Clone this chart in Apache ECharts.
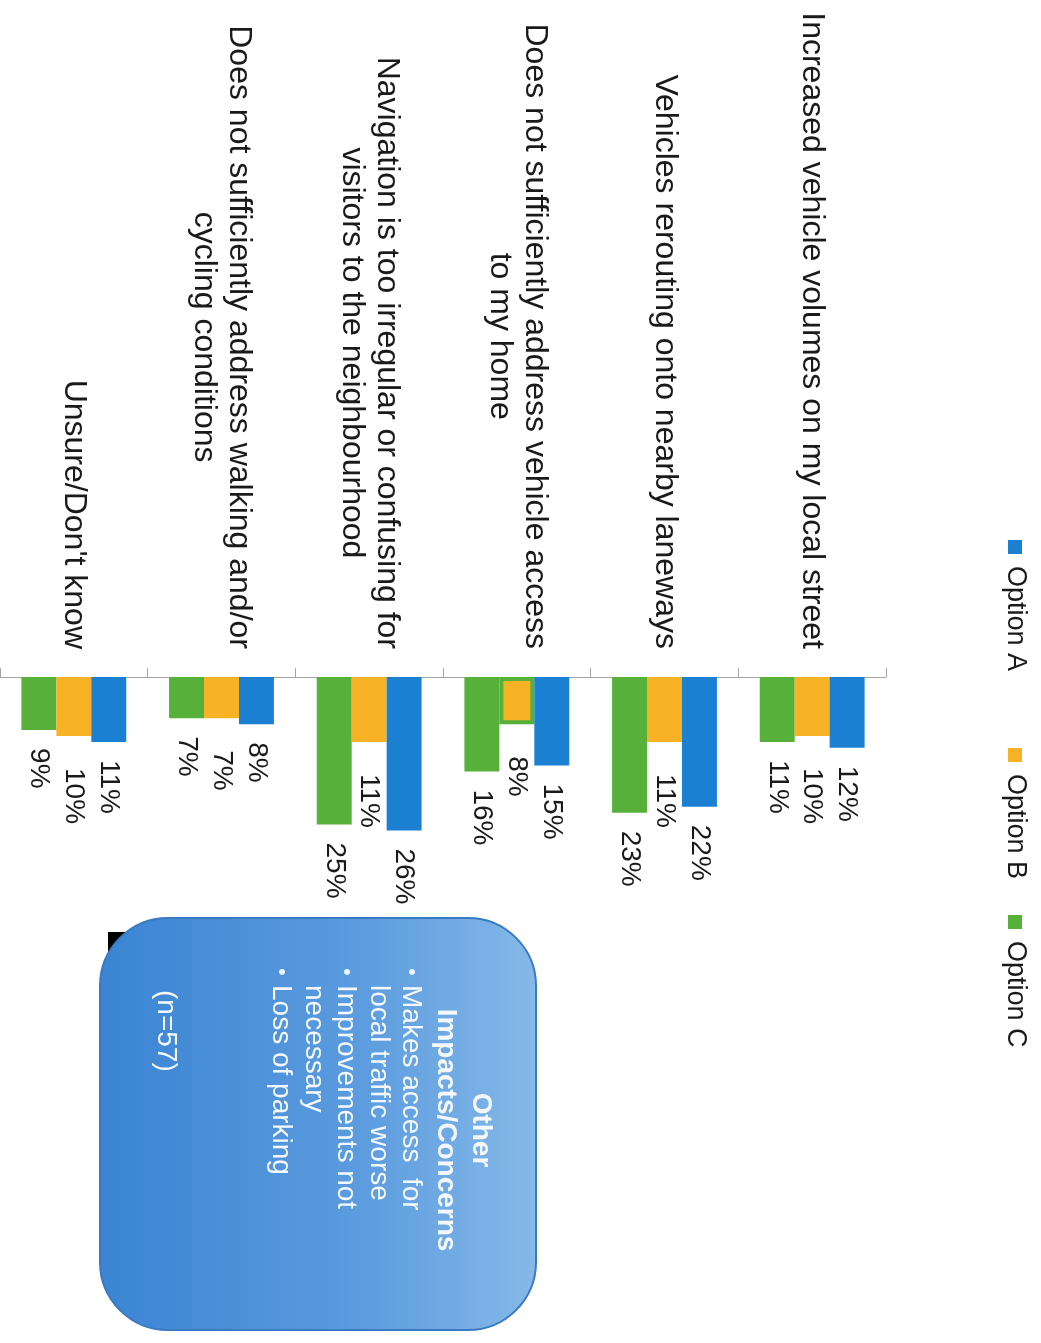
<!DOCTYPE html>
<html><head><meta charset="utf-8">
<script src="https://cdn.jsdelivr.net/npm/echarts@6/dist/echarts.min.js"></script>
<style>html,body{margin:0;padding:0;background:#fff}#c{width:1041px;height:1343px}</style>
</head><body><div id="c"></div>
<script>
// ---- data ----
const categories = [
  'Increased vehicle volumes on my local street',
  'Vehicles rerouting onto nearby laneways',
  'Does not sufficiently address vehicle access\nto my home',
  'Navigation is too irregular or confusing for\nvisitors to the neighbourhood',
  'Does not sufficiently address walking and/or\ncycling conditions',
  "Unsure/Don't know"
];
const seriesNames = ['Option A', 'Option B', 'Option C'];
const optionA = [12, 22, 15, 26, 8, 11];
const optionB = [10, 11, 8, 11, 7, 10];
const optionC = [11, 23, 16, 25, 7, 9];
const boxTitle = ['Other', 'Impacts/Concerns'];
const boxBullets = [['Makes access  for', 'local traffic worse'], ['Improvements not', 'necessary'], ['Loss of parking']];
const boxNote = '(n=57)';

// ---- styles ----
const FONT = '"Liberation Sans", Arial, sans-serif';
const colors = ['#1b80d2', '#f7b225', '#56b03a'];
const labelDist = [18, 32, 18];
const outlinedPoint = { series: 1, index: 2 };
const values = [optionA, optionB, optionC];

const chart = echarts.init(document.getElementById('c'), null, { renderer: 'canvas' });

// legend (rotated, reads top to bottom)
const legendY = [540, 748, 915];
const legendGraphics = seriesNames.map((n, i) => ({
  type: 'group', x: 1015, y: legendY[i], rotation: -Math.PI / 2,
  children: [
    { type: 'rect', shape: { x: 0, y: -7, width: 14, height: 14 }, style: { fill: colors[i] } },
    { type: 'text', style: { text: n, x: 26, y: 0, align: 'left', verticalAlign: 'middle', fill: '#1a1a1a', font: '27px ' + FONT } }
  ]
}));

// text box (rotated group; local x -> screen down, local y -> screen left)
const boxChildren = [
  { type: 'polygon', shape: { points: [[14, 428], [44, 428], [14, 400]] }, style: { fill: '#000' } },
  { type: 'rect', shape: { x: 0, y: 0, width: 412, height: 436, r: 68 },
    style: { fill: new echarts.graphic.LinearGradient(0, 0, 0, 1, [
      { offset: 0, color: '#86b9e8' }, { offset: 0.4, color: '#5c9cdf' }, { offset: 1, color: '#3a84d3' }]),
      stroke: '#3a7ac2', lineWidth: 2 } }
];
boxTitle.forEach((t, i) => boxChildren.push({ type: 'text', style: {
  text: t, x: 212, y: 55 + i * 35, align: 'center', verticalAlign: 'middle', fill: '#f4f8fd', font: 'bold 28px ' + FONT } }));
let ly = 125;
boxBullets.forEach(lines => {
  boxChildren.push({ type: 'text', style: { text: '•', x: 50, y: ly, align: 'left', verticalAlign: 'middle', fill: '#eef4fb', font: '22px ' + FONT } });
  lines.forEach(l => {
    boxChildren.push({ type: 'text', style: { text: l, x: 67, y: ly, align: 'left', verticalAlign: 'middle', fill: '#f4f8fd', font: '28px ' + FONT } });
    ly += 32.5;
  });
});
boxChildren.push({ type: 'text', style: { text: boxNote, x: 72, y: 370, align: 'left', verticalAlign: 'middle', fill: '#f4f8fd', font: '28px ' + FONT } });

// series drawn in reverse order so that Option A sits on the right of each group
const seriesOrder = [2, 1, 0];

const option = {
  animation: false,
  backgroundColor: '#fff',
  textStyle: { fontFamily: FONT },
  grid: { left: 0, right: 155, top: 677, height: 590, containLabel: false, outerBoundsMode: 'none' },
  xAxis: {
    type: 'category', data: categories, position: 'top', inverse: true,
    axisLine: { lineStyle: { color: '#a3a3a3', width: 1 } },
    axisTick: { show: true, length: 9, lineStyle: { color: '#a3a3a3' } },
    axisLabel: {
      interval: 0, rotate: -90, margin: 28, fontSize: 32, lineHeight: 35, color: '#1a1a1a',
      formatter: v => v.split('\n').map(l => '{c|' + l + '}').join('\n'),
      rich: { c: { align: 'center', fontSize: 32, lineHeight: 35, color: '#1a1a1a', fontFamily: FONT } }
    }
  },
  yAxis: { type: 'value', inverse: true, min: 0, max: 100, show: false, splitLine: { show: false } },
  series: seriesOrder.map(s => ({
    name: seriesNames[s], type: 'bar', barGap: '0%', barCategoryGap: '29%',
    itemStyle: { color: colors[s] },
    data: values[s].map((v, i) => (s === outlinedPoint.series && i === outlinedPoint.index)
      ? { value: v, itemStyle: { borderColor: colors[2], borderWidth: 4 } } : v),
    label: {
      show: true, position: 'bottom', distance: labelDist[s], rotate: -90,
      align: 'left', verticalAlign: 'middle', fontSize: 28, color: '#1a1a1a', fontFamily: FONT,
      formatter: '{c}%'
    }
  })),
  graphic: legendGraphics.concat([{ type: 'group', x: 536, y: 918, rotation: -Math.PI / 2, children: boxChildren }])
};
chart.setOption(option);
</script>
</body></html>
